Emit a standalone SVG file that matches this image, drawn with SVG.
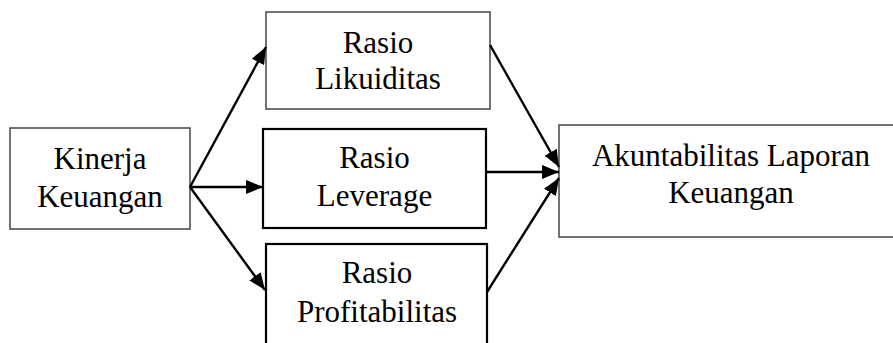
<svg xmlns="http://www.w3.org/2000/svg" width="893" height="343" viewBox="0 0 893 343">
<defs>
<marker id="ah" markerUnits="userSpaceOnUse" markerWidth="18" markerHeight="14" refX="17" refY="7" orient="auto">
<path d="M0,0 L17,7 L0,14 z" fill="#000"/>
</marker>
<style>
.box{fill:#fff;stroke:#444;stroke-width:1.5}
.boxk{fill:#fff;stroke:#000;stroke-width:2.2}
.t{font-family:"Liberation Serif","Times New Roman",serif;font-size:31px;fill:#000;text-anchor:middle}
.c{stroke:#000;stroke-width:2.4;fill:none;marker-end:url(#ah)}
</style>
</defs>
<rect width="893" height="343" fill="#fff"/>
<g id="kinerja">
<rect class="box" x="10" y="128" width="180" height="101"/>
<text class="t" x="100" y="169">Kinerja</text>
<text class="t" x="100" y="207">Keuangan</text>
</g>
<g id="likuiditas">
<rect class="box" x="266" y="12" width="224" height="97"/>
<text class="t" x="378" y="53">Rasio</text>
<text class="t" x="378" y="89">Likuiditas</text>
</g>
<g id="leverage">
<rect class="boxk" x="263" y="129" width="223" height="99"/>
<text class="t" x="374.5" y="168">Rasio</text>
<text class="t" x="374.5" y="206">Leverage</text>
</g>
<g id="profitabilitas">
<rect class="boxk" x="266" y="244" width="221" height="110"/>
<text class="t" x="377" y="283">Rasio</text>
<text class="t" x="377" y="322">Profitabilitas</text>
</g>
<g id="akuntabilitas">
<rect class="box" x="559" y="125" width="345" height="112"/>
<text class="t" x="731" y="166">Akuntabilitas Laporan</text>
<text class="t" x="731" y="203">Keuangan</text>
</g>
<g id="connectors">
<line class="c" x1="190" y1="187" x2="266" y2="47"/>
<line class="c" x1="190" y1="187" x2="263" y2="187"/>
<line class="c" x1="190" y1="187" x2="265" y2="290"/>
<line class="c" x1="490" y1="45" x2="559" y2="167"/>
<line class="c" x1="486" y1="172" x2="559" y2="172"/>
<line class="c" x1="487" y1="292" x2="559" y2="178"/>
</g>
</svg>
